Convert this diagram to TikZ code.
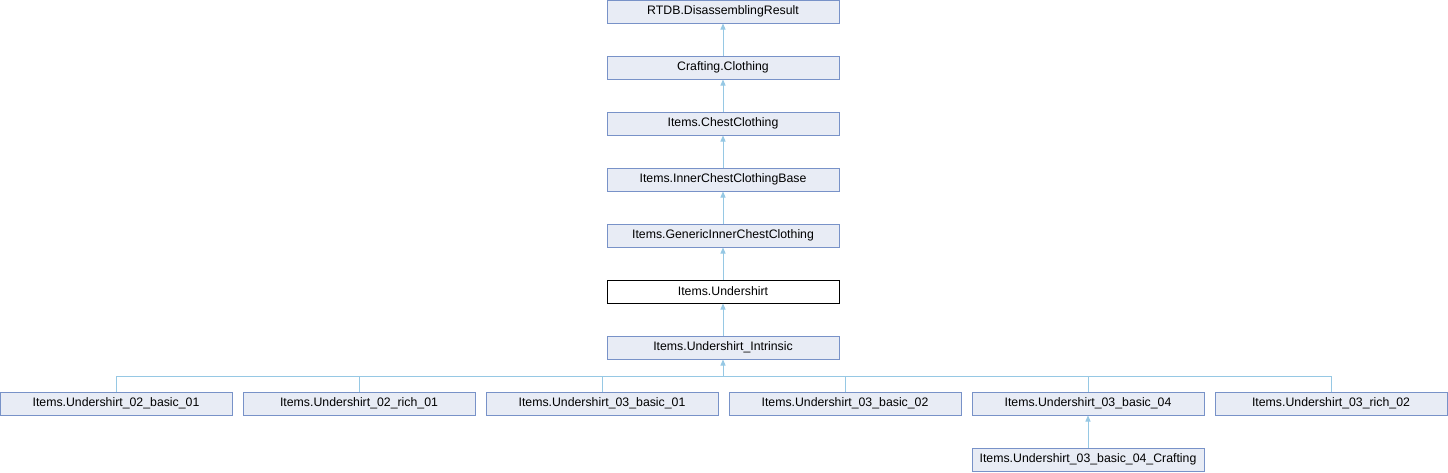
\documentclass[tikz,border=0pt]{standalone}
\usepackage{fontspec}
\setmainfont{Liberation Sans}
\usetikzlibrary{arrows.meta}
\definecolor{boxfill}{RGB}{232,236,245}
\definecolor{boxline}{RGB}{120,146,200}
\definecolor{edgeblue}{RGB}{150,200,228}
\begin{document}
\begin{tikzpicture}[x=1pt,y=-1pt,
		cls/.style={draw=boxline, fill=boxfill, line width=1pt, minimum width=232pt, minimum height=23pt, inner sep=0pt, font=\fontsize{12.3}{14}\selectfont},
		cur/.style={cls, draw=black, fill=white},
		link/.style={draw=edgeblue, line width=1pt},
		inh/.style={link, {Triangle[width=5pt,length=6pt]}-}]
	\useasboundingbox (0,0) rectangle (1448,472);
	% Chuỗi lớp cha
	\node[cls] (rtdb) at (723,11.5) {RTDB.DisassemblingResult};
	\node[cls] (craft) at (723,67.5) {Crafting.Clothing};
	\node[cls] (chest) at (723,123.5) {Items.ChestClothing};
	\node[cls] (inner) at (723,179.5) {Items.InnerChestClothingBase};
	\node[cls] (generic) at (723,235.5) {Items.GenericInnerChestClothing};
	\node[cur] (under) at (723,291.5) {Items.Undershirt};
	\node[cls] (intr) at (723,347.5) {Items.Undershirt\_Intrinsic};
	\draw[inh] (rtdb.south) -- (craft.north);
	\draw[inh] (craft.south) -- (chest.north);
	\draw[inh] (chest.south) -- (inner.north);
	\draw[inh] (inner.south) -- (generic.north);
	\draw[inh] (generic.south) -- (under.north);
	\draw[inh] (under.south) -- (intr.north);
	% Các lớp con
	\coordinate (bus) at (723,376.5);
	\draw[inh] (intr.south) -- (bus);
	\foreach \n/\x/\t in {b1/116/02\_basic\_01, r1/359/02\_rich\_01, b31/602/03\_basic\_01, b32/845/03\_basic\_02, b34/1088/03\_basic\_04, r2/1331/03\_rich\_02}{
		\node[cls] (\n) at (\x,403.5) {Items.Undershirt\_\t};
		\draw[link] (\n.north) |- (bus);
	}
	\node[cls] (b34c) at (1088,459.5) {Items.Undershirt\_03\_basic\_04\_Crafting};
	\draw[inh] (b34.south) -- (b34c.north);
\end{tikzpicture}
\end{document}
